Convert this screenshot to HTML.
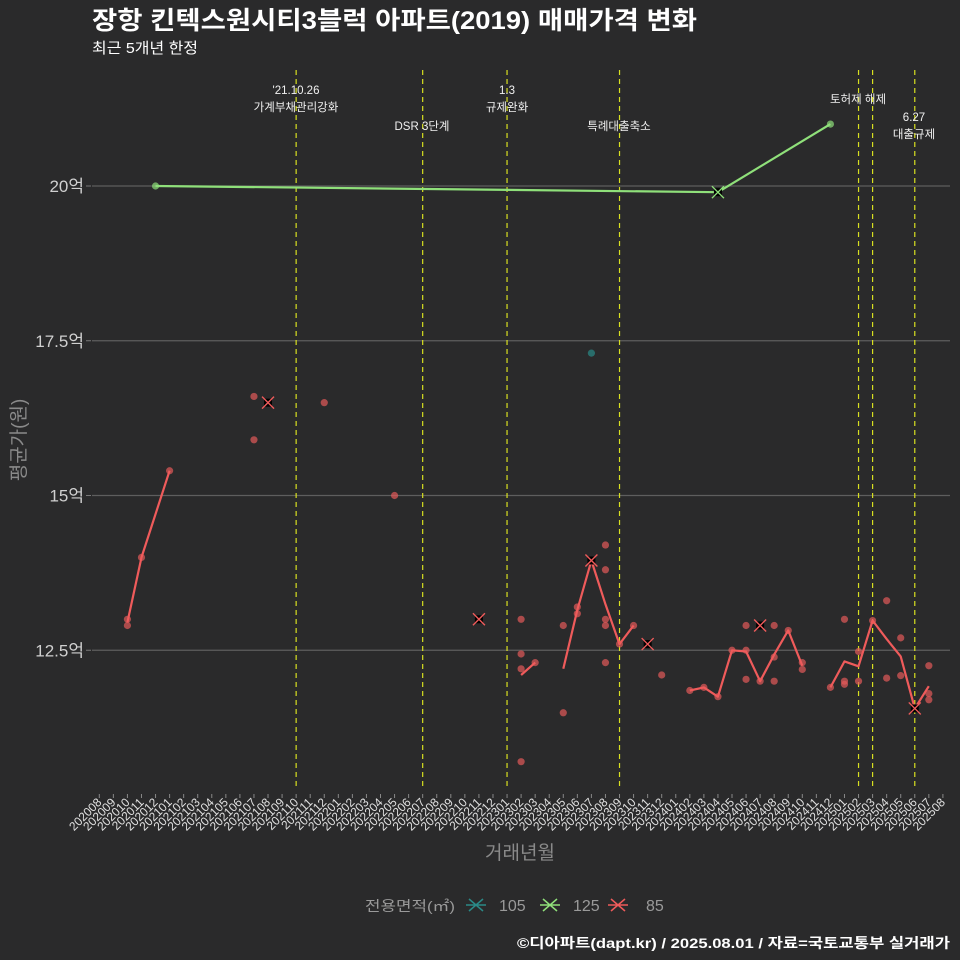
<!DOCTYPE html>
<html><head><meta charset="utf-8">
<style>
html,body{margin:0;padding:0;background:#2a2a2b;}
svg{display:block;font-family:"Liberation Sans","Noto Sans CJK KR",sans-serif;}
</style></head>
<body>
<svg id="chart" width="960" height="960" viewBox="0 0 960 960" xmlns="http://www.w3.org/2000/svg">
<rect width="960" height="960" fill="#2a2a2b"/>
<text x="92" y="29" font-size="25" font-weight="bold" fill="#ffffff" textLength="605" lengthAdjust="spacingAndGlyphs">장항 킨텍스원시티3블럭 아파트(2019) 매매가격 변화</text>
<text x="92" y="53" font-size="15" fill="#ffffff" textLength="106" lengthAdjust="spacingAndGlyphs">최근 5개년 한정</text>
<g id="grid"></g>
<g id="events"></g>
<g id="series"></g>
<g id="xaxis"></g>
<g id="yaxis"></g>
<text x="520" y="859" font-size="19" fill="#8a8a8a" text-anchor="middle">거래년월</text>
<text transform="translate(25,440) rotate(-90)" font-size="19" fill="#8a8a8a" text-anchor="middle">평균가(원)</text>
<g>
<text x="365" y="911" font-size="14" fill="#9a9a9a" textLength="90" lengthAdjust="spacingAndGlyphs">전용면적(㎡)</text>
<g><path d="M466,905h20M469,899l14,12M483,899l-14,12" stroke="#2a8a88" stroke-width="1.5"/><text x="499" y="911" font-size="16" fill="#9a9a9a">105</text></g>
<g><path d="M540,905h20M543,899l14,12M557,899l-14,12" stroke="#8fe07a" stroke-width="1.5"/><text x="573" y="911" font-size="16" fill="#9a9a9a">125</text></g>
<g><path d="M608,905h20M611,899l14,12M625,899l-14,12" stroke="#ef5b5b" stroke-width="1.5"/><text x="646" y="911" font-size="16" fill="#9a9a9a">85</text></g>
</g>
<text x="950" y="948" font-size="14" font-weight="bold" fill="#ffffff" text-anchor="end" textLength="433" lengthAdjust="spacingAndGlyphs">©디아파트(dapt.kr) / 2025.08.01 / 자료=국토교통부 실거래가</text>
</svg>
<script>
const months = [];
for (let y = 2020, m = 8; !(y === 2025 && m === 9); ) { months.push(String(y) + String(m).padStart(2, '0')); m++; if (m > 12) { m = 1; y++; } }
const yTicks = [12.5, 15, 17.5, 20];
const yTickLabels = ['12.5억', '15억', '17.5억', '20억'];
const eventMonths = ['202110', '202207', '202301', '202309', '202502', '202503', '202506'];
const eventLabels = [["'21.10.26", '가계부채관리강화'], ['DSR 3단계'], ['1.3', '규제완화'], ['특례대출축소'], ['토허제 해제'], [], ['6.27', '대출규제']];
const eventLabelY = [90, 126, 90, 126, 99, 0, 117];
const eventLabelX = [296, 422, 507, 619, 858, 872, 914];
// 85㎡ monthly average (null = gap)
const line85Months = ['202010','202011','202101', null, '202302','202303', null, '202305','202306','202307','202308','202309','202310', null, '202402','202403','202404','202405','202406','202407','202408','202409','202410', null, '202412','202501','202502','202503','202504','202505','202506','202507'];
const line85Values = [12.95, 14.0, 15.4, null, 12.1, 12.3, null, 12.2, 13.15, 13.95, 13.24, 12.6, 12.9, null, 11.85, 11.9, 11.75, 12.5, 12.48, 12.0, 12.43, 12.82, 12.25, null, 11.9, 12.32, 12.24, 12.98, 12.68, 12.4, 11.56, 11.92];
const pts85Months = ['202010','202010','202011','202101','202107','202107','202112','202205','202302','202302','202302','202302','202303','202305','202305','202306','202306','202307','202308','202308','202308','202308','202308','202309','202310','202312','202402','202403','202404','202405','202406','202406','202406','202407','202408','202408','202408','202409','202410','202410','202412','202501','202501','202501','202502','202502','202503','202504','202504','202505','202505','202506','202507','202507','202507'];
const pts85Values = [13.0, 12.9, 14.0, 15.4, 16.6, 15.9, 16.5, 15.0, 13.0, 12.44, 12.2, 10.7, 12.3, 12.9, 11.49, 13.2, 13.09, 13.95, 14.2, 13.8, 13.0, 12.9, 12.3, 12.6, 12.9, 12.1, 11.85, 11.9, 11.75, 12.5, 12.9, 12.5, 12.03, 12.0, 12.9, 12.39, 12.0, 12.82, 12.3, 12.19, 11.9, 13.0, 12.0, 11.95, 12.48, 12.0, 12.98, 13.3, 12.05, 12.7, 12.09, 11.56, 12.25, 11.8, 11.7];
const cross85Months = ['202108', '202211', '202307', '202311', '202407', '202506'];
const cross85Values = [16.5, 13.0, 13.95, 12.6, 12.9, 11.56];
const line125Months = ['202012', '202404', '202412'];
const line125Values = [20.0, 19.9, 21.0];
const cross125Months = ['202404'];
const cross125Values = [19.9];
const pts105Months = ['202307'];
const pts105Values = [17.3];

const NS = 'http://www.w3.org/2000/svg';
const X0 = 99.3, DX = 14.06, PLOT_L = 92, PLOT_R = 950, PLOT_T = 70, PLOT_B = 790;
function xScale(m) { return X0 + DX * months.indexOf(m); }
function yScale(v) { return 186 + (20 - v) * 61.9; }
function mk(tag, attrs, parent) { const e = document.createElementNS(NS, tag); for (const k in attrs) e.setAttribute(k, attrs[k]); parent.appendChild(e); return e; }

const grid = document.getElementById('grid');
const yaxis = document.getElementById('yaxis');
yTicks.forEach((v, i) => {
  const l = mk('line', {x1: PLOT_L, x2: PLOT_R, y1: yScale(v), y2: yScale(v), stroke: '#5e5e5e', 'stroke-width': 1.2}, grid);
  
  
  const tk = mk('line', {x1: 86, x2: 91, y1: yScale(v), y2: yScale(v), stroke: '#777'}, yaxis);
  
  
  const t = mk('text', {x: 84, y: yScale(v) + 6, 'font-size': 17, fill: '#d0d0d0', 'text-anchor': 'end'}, yaxis);
  t.textContent = yTickLabels[i];
  
  
});

const xaxis = document.getElementById('xaxis');
months.forEach(m => {
  const x = xScale(m);
  const tk = mk('line', {x1: x, x2: x, y1: 794, y2: 798, stroke: '#888'}, xaxis);
  
  
  const t = mk('text', {x: x + 3, y: 803, 'font-size': 12, fill: '#e0e0e0', 'text-anchor': 'end', transform: `rotate(-45 ${x + 3} 803)`}, xaxis);
  t.textContent = m;
  
  
});

const ev = document.getElementById('events');
eventMonths.forEach((m, i) => {
  const x = xScale(m);
  const l = mk('line', {x1: x, x2: x, y1: PLOT_T, y2: PLOT_B, stroke: '#d8e020', 'stroke-width': 1.2, 'stroke-dasharray': '5,4'}, ev);
  
  
  eventLabels[i].forEach((s, j) => {
    const t = mk('text', {x: eventLabelX[i], y: eventLabelY[i] + 4 + j * 17, 'font-size': 11.5, fill: '#f0f0f0', 'text-anchor': 'middle'}, ev);
    t.textContent = s;
    
    
  });
});

const ser = document.getElementById('series');
function drawLine(ms, vs, color, name) {
  let d = '', pen = false;
  ms.forEach((m, i) => {
    if (m === null || vs[i] === null) { pen = false; return; }
    d += (pen ? 'L' : 'M') + xScale(m).toFixed(1) + ',' + yScale(vs[i]).toFixed(1);
    pen = true;
  });
  const p = mk('path', {d: d, fill: 'none', stroke: color, 'stroke-width': 2.2, 'stroke-linejoin': 'round'}, ser);
  
  
}
function drawPts(ms, vs, color, name) {
  ms.forEach((m, i) => {
    const c = mk('circle', {cx: xScale(m), cy: yScale(vs[i]), r: 3.6, fill: color, 'fill-opacity': 0.7}, ser);
    
    
  });
}
function drawCross(ms, vs, color, name) {
  ms.forEach((m, i) => {
    const x = xScale(m), y = yScale(vs[i]);
    const g = mk('g', {}, ser);
    
    
    mk('rect', {x: x - 4, y: y - 4, width: 8, height: 8, fill: '#000'}, g);
    mk('path', {d: `M${x - 6},${y - 6}L${x + 6},${y + 6}M${x + 6},${y - 6}L${x - 6},${y + 6}`, stroke: color, 'stroke-width': 1.4}, g);
  });
}
drawPts(pts105Months, pts105Values, '#2a8a88', 'point-105');
drawLine(line125Months, line125Values, '#8fe07a', 'line-125');
drawPts(line125Months, line125Values, '#8fe07a', 'point-125');
drawCross(cross125Months, cross125Values, '#8fe07a', 'cross-125');
drawPts(pts85Months, pts85Values, '#e35a5a', 'point-85');
drawLine(line85Months, line85Values, '#ef5b5b', 'line-85');
drawCross(cross85Months, cross85Values, '#ef5b5b', 'cross-85');
</script>
</body></html>
